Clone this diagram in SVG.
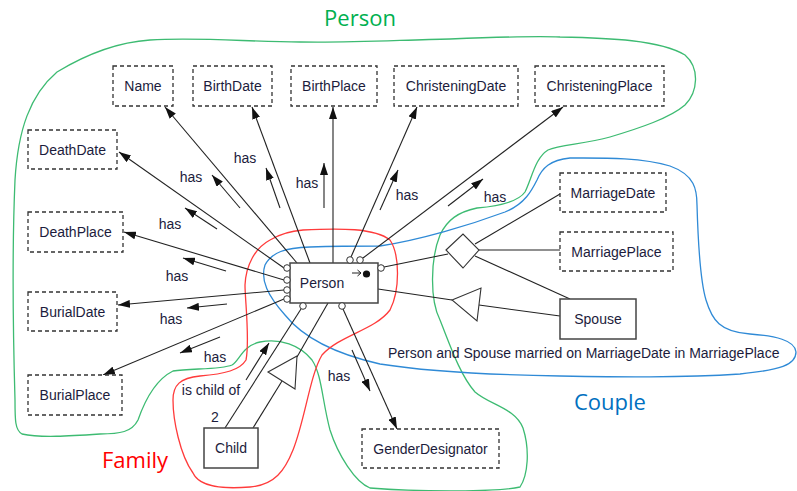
<svg xmlns="http://www.w3.org/2000/svg" width="797" height="491" viewBox="0 0 797 491">
  <style>
    .bg { fill: #ffffff; }
    .attr rect { fill: #ffffff; stroke: #333333; stroke-width: 1.3; stroke-dasharray: 4 3; }
    .ent rect { fill: #ffffff; stroke: #444444; stroke-width: 1.5; }
    text { font-family: "Liberation Sans", Arial, sans-serif; font-size: 14px; fill: #1c1c3c; }
    .nodes text { text-anchor: middle; }
    .lbl { text-anchor: middle; }
    .edge { fill: none; stroke: #222222; stroke-width: 1.1; }
    .arr { marker-end: url(#head); }
    .port { fill: #ffffff; stroke: #333333; stroke-width: 1; }
    .shape { fill: #ffffff; stroke: #333333; stroke-width: 1.1; }
    .grp { fill: none; stroke-width: 1.3; }
    .gtitle { font-family: "Open Sans", "Noto Sans", sans-serif; font-size: 22px; text-anchor: middle; }
  </style>
  <defs>
    <marker id="head" viewBox="0 0 12 8" refX="12" refY="4" markerWidth="12" markerHeight="8" markerUnits="userSpaceOnUse" orient="auto">
      <path d="M0,0 L12,4 L0,8 z" fill="#111111"/>
    </marker>
  </defs>
  <rect class="bg" x="0" y="0" width="797" height="491"/>

  <!-- group outlines -->
  <g id="outlines">
    <path class="grp" stroke="#3dbb72" d="M57,72 C90,52 120,42 150,40 C200,37 250,42 300,42 C350,43 400,40 450,39 C500,37 540,36 560,37 C610,38 660,40 685,55 C700,68 698,92 685,105 C670,118 640,128 610,137 C585,144 560,145 548,150 C535,158 532,178 525,192 C518,202 500,206 477,208 C458,212 447,220 440,235 C430,260 430,300 440,320 C450,345 460,375 475,392 C490,405 515,408 523,428 C530,450 528,475 520,487 C500,492 420,492 370,488 C355,482 338,455 330,430 C322,400 322,375 312,360 C300,345 280,338 260,342 C242,346 240,360 232,365 C220,370 190,368 173,371 C155,380 145,400 138,420 C132,432 120,434 100,434 C70,436 40,438 22,434 C15,430 15,420 15,400 C13,330 12,250 15,180 C18,130 30,95 57,72 Z"/>
    <path class="grp" stroke="#2f8ad6" d="M380,246 C420,240 470,225 505,212 C525,204 532,190 537,180 C542,168 550,160 570,158 C600,158 640,157 670,166 C695,175 697,190 697,205 C698,240 700,280 706,300 C712,320 720,332 750,334 C775,336 795,340 796,352 C796,365 780,370 740,374 C680,378 620,377 560,376 C500,375 430,372 380,364 C340,355 305,340 285,315 C268,296 260,280 265,265 C272,252 285,248 310,247 C340,246 360,246 380,246 Z"/>
    <path class="grp" stroke="#ff3b3b" d="M303,230 C340,228 375,228 390,240 C400,255 400,290 390,310 C375,330 340,335 322,355 C310,375 305,420 293,450 C285,470 275,485 250,487 C225,489 200,488 193,473 C180,455 173,420 173,400 C173,385 180,378 200,376 C225,374 240,370 246,360 C250,340 245,300 245,285 C246,265 255,248 270,240 C280,234 290,231 303,230 Z"/>
    <text class="gtitle" x="360" y="26" fill="#00b050" style="fill:#00b050">Person</text>
    <text class="gtitle" x="610" y="410" style="fill:#0070c0">Couple</text>
    <text class="gtitle" x="135" y="468" style="fill:#ff0000">Family</text>
  </g>

  <!-- connectors -->
  <g id="connectors">
    <line class="edge arr" x1="297" y1="263" x2="165" y2="107"/>
    <line class="edge arr" x1="310" y1="263" x2="252" y2="107"/>
    <line class="edge arr" x1="333" y1="263" x2="333" y2="107"/>
    <line class="edge arr" x1="351" y1="257" x2="417" y2="107"/>
    <line class="edge arr" x1="363" y1="258" x2="563" y2="107"/>
    <line class="edge arr" x1="284" y1="268" x2="119" y2="152"/>
    <line class="edge arr" x1="284" y1="280" x2="124" y2="232"/>
    <line class="edge arr" x1="284" y1="290" x2="118" y2="305"/>
    <line class="edge arr" x1="284" y1="299" x2="103" y2="375"/>
    <line class="edge arr" x1="343" y1="309" x2="397" y2="429"/>
    <line class="edge" x1="301" y1="309" x2="225" y2="428"/>
    <line class="edge" x1="253" y1="428" x2="282" y2="381"/>
    <line class="edge" x1="297" y1="357" x2="328" y2="303"/>
    <polygon class="shape" points="268,372 297,356 295,389"/>
    <line class="edge" x1="384" y1="267" x2="448" y2="254"/>
    <line class="edge" x1="475" y1="244" x2="560" y2="194"/>
    <line class="edge" x1="479" y1="250" x2="560" y2="250"/>
    <line class="edge" x1="475" y1="256" x2="570" y2="299"/>
    <polygon class="shape" points="446,250 463,234 479,250 463,268"/>
    <line class="edge" x1="378" y1="289" x2="452" y2="300"/>
    <line class="edge" x1="479" y1="305" x2="560" y2="316"/>
    <polygon class="shape" points="452,300 481,288 477,321"/>

    <!-- reading-direction arrows beside the labels -->
    <line class="edge arr" x1="240" y1="208" x2="212" y2="175"/>
    <line class="edge arr" x1="280" y1="208" x2="266" y2="168"/>
    <line class="edge arr" x1="324" y1="208" x2="324" y2="163"/>
    <line class="edge arr" x1="380" y1="210" x2="398" y2="170"/>
    <line class="edge arr" x1="448" y1="206" x2="483" y2="179"/>
    <line class="edge arr" x1="217" y1="229" x2="185" y2="208"/>
    <line class="edge arr" x1="226" y1="271" x2="183" y2="258"/>
    <line class="edge arr" x1="227" y1="304" x2="187" y2="308"/>
    <line class="edge arr" x1="220" y1="337" x2="180" y2="353"/>
    <line class="edge arr" x1="246" y1="380" x2="269" y2="343"/>
    <line class="edge arr" x1="352" y1="350" x2="370" y2="391"/>

    <text class="lbl" x="191" y="182">has</text>
    <text class="lbl" x="245" y="163">has</text>
    <text class="lbl" x="307" y="188">has</text>
    <text class="lbl" x="407" y="200">has</text>
    <text class="lbl" x="495" y="202">has</text>
    <text class="lbl" x="170" y="229">has</text>
    <text class="lbl" x="177" y="281">has</text>
    <text class="lbl" x="171" y="324">has</text>
    <text class="lbl" x="215" y="362">has</text>
    <text class="lbl" x="339" y="381">has</text>
    <text class="lbl" x="211" y="395">is child of</text>
    <text class="lbl" x="215" y="422">2</text>
    <text x="388" y="358">Person and Spouse married on MarriageDate in MarriagePlace</text>
  </g>

  <!-- nodes -->
  <g class="nodes">
    <g id="name" class="attr"><rect x="113" y="66" width="60" height="40"/><text x="143" y="91">Name</text></g>
    <g id="birthdate" class="attr"><rect x="193" y="66" width="79" height="40"/><text x="232.5" y="91">BirthDate</text></g>
    <g id="birthplace" class="attr"><rect x="291" y="66" width="86" height="40"/><text x="334" y="91">BirthPlace</text></g>
    <g id="christeningdate" class="attr"><rect x="394" y="66" width="124" height="40"/><text x="456" y="91">ChristeningDate</text></g>
    <g id="christeningplace" class="attr"><rect x="535" y="66" width="129" height="40"/><text x="599.5" y="91">ChristeningPlace</text></g>
    <g id="deathdate" class="attr"><rect x="28" y="130" width="89" height="39"/><text x="72.5" y="154.5">DeathDate</text></g>
    <g id="deathplace" class="attr"><rect x="28" y="212" width="95" height="40"/><text x="75.5" y="237">DeathPlace</text></g>
    <g id="burialdate" class="attr"><rect x="28" y="292" width="89" height="39"/><text x="72.5" y="316.5">BurialDate</text></g>
    <g id="burialplace" class="attr"><rect x="28" y="375" width="94" height="40"/><text x="75" y="400">BurialPlace</text></g>
    <g id="marriagedate" class="attr"><rect x="560" y="173" width="106" height="39"/><text x="613" y="197.5">MarriageDate</text></g>
    <g id="marriageplace" class="attr"><rect x="560" y="232" width="113" height="39"/><text x="616.5" y="256.5">MarriagePlace</text></g>
    <g id="genderdesignator" class="attr"><rect x="362" y="429" width="137" height="39"/><text x="430.5" y="453.5">GenderDesignator</text></g>
    <g id="spouse" class="ent"><rect x="560" y="299" width="76" height="40"/><text x="598" y="324">Spouse</text></g>
    <g id="child" class="ent"><rect x="204" y="428" width="54" height="40"/><text x="231" y="453">Child</text></g>
    <g id="person" class="ent">
      <rect x="290" y="263" width="88" height="40"/>
      <text x="322" y="288">Person</text>
      <circle class="port" cx="287" cy="268" r="3.3"/>
      <circle class="port" cx="287" cy="280" r="3.3"/>
      <circle class="port" cx="287" cy="290" r="3.3"/>
      <circle class="port" cx="287" cy="299" r="3.3"/>
      <circle class="port" cx="350" cy="260" r="3.3"/>
      <circle class="port" cx="360" cy="260" r="3.3"/>
      <circle class="port" cx="381" cy="268" r="3.3"/>
      <circle class="port" cx="303" cy="306" r="3.3"/>
      <circle class="port" cx="342" cy="306" r="3.3"/>
      <path d="M352,273 H361 M357.5,270 L361,273 L357.5,276" fill="none" stroke="#222222" stroke-width="1"/>
      <circle cx="366.5" cy="274" r="3.6" fill="#111111"/>
    </g>
  </g>
</svg>
